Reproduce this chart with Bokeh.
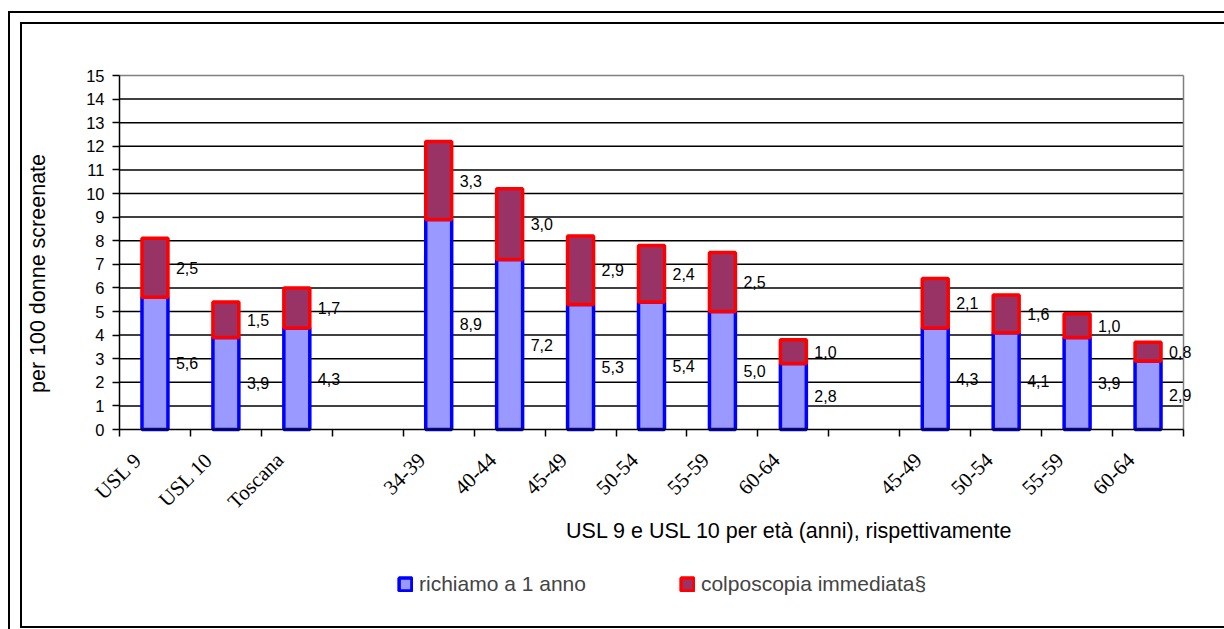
from math import pi
from bokeh.plotting import figure
from bokeh.models import (Range1d, FixedTicker, ColumnDataSource, LabelSet, Label,
                          Legend, LegendItem)
from bokeh.core.properties import value
from bokeh.embed import file_html
from bokeh.resources import INLINE

# ---- data ----
categories = ["USL 9", "USL 10", "Toscana", "", "34-39", "40-44", "45-49", "50-54",
              "55-59", "60-64", "", "45-49", "50-54", "55-59", "60-64"]
richiamo = [5.6, 3.9, 4.3, None, 8.9, 7.2, 5.3, 5.4, 5.0, 2.8, None, 4.3, 4.1, 3.9, 2.9]
colposcopia = [2.5, 1.5, 1.7, None, 3.3, 3.0, 2.9, 2.4, 2.5, 1.0, None, 2.1, 1.6, 1.0, 0.8]
y_ticks = list(range(0, 16))
series_names = ["richiamo a 1 anno", "colposcopia immediata§"]
x_title = "USL 9 e USL 10 per età (anni), rispettivamente"
y_title = "per 100 donne screenate"

# ---- layout / styling constants (pixels) ----
W, H = 1224, 629
AREA_L, AREA_R = 119, 1183      # category area left / right
AREA_T, AREA_B = 75, 429        # y=15 and y=0 positions
SHIFT = 0.24                    # tick-label anchor sits left of slot centre
BAR_W = 0.366
SANS = "Liberation Sans"
SERIF = "Liberation Serif"


def fmt(v):
    return f"{v:.1f}".replace(".", ",")


n = len(categories)
y_max = y_ticks[-1]
PX_X = (AREA_R - AREA_L) / n
PX_Y = (AREA_B - AREA_T) / y_max
x0 = SHIFT - 0.5
x1 = x0 + n


def at_x(px):
    return x0 + (px - AREA_L) / PX_X


def at_y(py):
    return (AREA_B - py) / PX_Y


idx = [i for i, c in enumerate(categories) if c]
xs = [i + SHIFT for i in idx]
r_vals = [richiamo[i] for i in idx]
c_vals = [colposcopia[i] for i in idx]
tops = [a + b for a, b in zip(r_vals, c_vals)]
src = ColumnDataSource(dict(
    x=xs, r=r_vals, top=tops,
    r_mid=[v / 2 for v in r_vals],
    c_mid=[a + b / 2 for a, b in zip(r_vals, c_vals)],
    r_lab=[fmt(v) for v in r_vals],
    c_lab=[fmt(v) for v in c_vals],
))

p = figure(width=W, height=H, x_range=Range1d(at_x(0), at_x(W)),
           y_range=Range1d(at_y(H), at_y(0)), output_backend="svg",
           toolbar_location=None, min_border=0, min_border_left=0,
           min_border_right=0, min_border_top=0, min_border_bottom=0, title=None)
p.background_fill_alpha = 0
p.border_fill_alpha = 0
p.outline_line_color = None

# double page border drawn with CSS behind the transparent canvas
p.styles = {
    "background-color": "white",
    "background-image": ", ".join(["linear-gradient(#000, #000)"] * 5),
    "background-position": "8px 11px, 8px 11px, 20px 22px, 20px 22px, 20px 626px",
    "background-size": "2px 100%, 100% 2px, 2px 606px, 100% 2px, 100% 2px",
    "background-repeat": "no-repeat",
}

# grid lines limited to the category area; top one and right edge grey
gy = y_ticks[1:]
p.segment(x0=[x0] * len(gy), x1=[x1] * len(gy), y0=gy, y1=gy,
          line_color=["black"] * (len(gy) - 1) + ["#808080"], line_width=1.5)
p.segment(x0=[x1], x1=[x1], y0=[y_ticks[0]], y1=[y_max],
          line_color="#808080", line_width=1.5)

r1 = p.vbar(x="x", bottom=0, top="r", width=BAR_W, source=src,
            fill_color="#9999FF", line_color="#0000FF", line_width=3.5)
r2 = p.vbar(x="x", bottom="r", top="top", width=BAR_W, source=src,
            fill_color="#993366", line_color="#FF0000", line_width=3.5)

p.xgrid.visible = False
p.ygrid.visible = False

# x axis, drawn at y = 0
xa = p.xaxis[0]
xa.fixed_location = 0
xa.bounds = (x0, x1)
xa.ticker = FixedTicker(ticks=list(range(n)),
                        minor_ticks=[x0 + i for i in range(n + 1)])
xa.major_label_overrides = {i: c for i, c in enumerate(categories)}
xa.major_tick_out = 0
xa.major_tick_in = 0
xa.minor_tick_out = 7
xa.minor_tick_in = 0
xa.minor_tick_line_color = "black"
xa.minor_tick_line_width = 1.5
xa.axis_line_color = "black"
xa.axis_line_width = 1.5
xa.major_label_orientation = pi / 4
xa.major_label_text_font = SERIF
xa.major_label_text_font_size = "21px"
xa.major_label_text_color = "black"
xa.major_label_standoff = 20

# y axis, drawn at the left edge of the category area
ya = p.yaxis[0]
ya.fixed_location = x0
ya.bounds = (y_ticks[0], y_max)
ya.ticker = FixedTicker(ticks=y_ticks)
ya.major_tick_out = 7
ya.major_tick_in = 0
ya.minor_tick_out = 0
ya.minor_tick_in = 0
ya.major_tick_line_color = "black"
ya.major_tick_line_width = 1.5
ya.axis_line_color = "black"
ya.axis_line_width = 1.5
ya.major_label_standoff = 8
ya.major_label_text_font = SANS
ya.major_label_text_font_size = "16.5px"
ya.major_label_text_color = "black"

# data labels
for ycol, tcol in (("r_mid", "r_lab"), ("c_mid", "c_lab")):
    p.add_layout(LabelSet(x="x", y=ycol, text=tcol, source=src, x_offset=21,
                          text_align="left", text_baseline="middle",
                          text_font=value(SANS), text_font_size=value("16px"),
                          text_color="black"))

# axis titles
p.add_layout(Label(x=at_x(789), y=at_y(530), text=x_title, text_align="center",
                   text_baseline="middle", text_font=SANS, text_font_size="21.5px",
                   text_color="black"))
p.add_layout(Label(x=at_x(37), y=at_y(273), text=y_title, angle=pi / 2,
                   text_align="center", text_baseline="middle", text_font=SANS,
                   text_font_size="21.5px", text_color="black"))

# legend
legend = Legend(items=[LegendItem(label=series_names[0], renderers=[r1]),
                       LegendItem(label=series_names[1], renderers=[r2])],
                orientation="horizontal", location=(397, 33),
                label_text_font=SANS, label_text_font_size="21px",
                glyph_width=16, glyph_height=16, label_standoff=6, spacing=93,
                padding=0, margin=0, border_line_alpha=0, background_fill_alpha=0)
p.add_layout(legend, "center")

open("out.html", "w").write(file_html(p, INLINE))
